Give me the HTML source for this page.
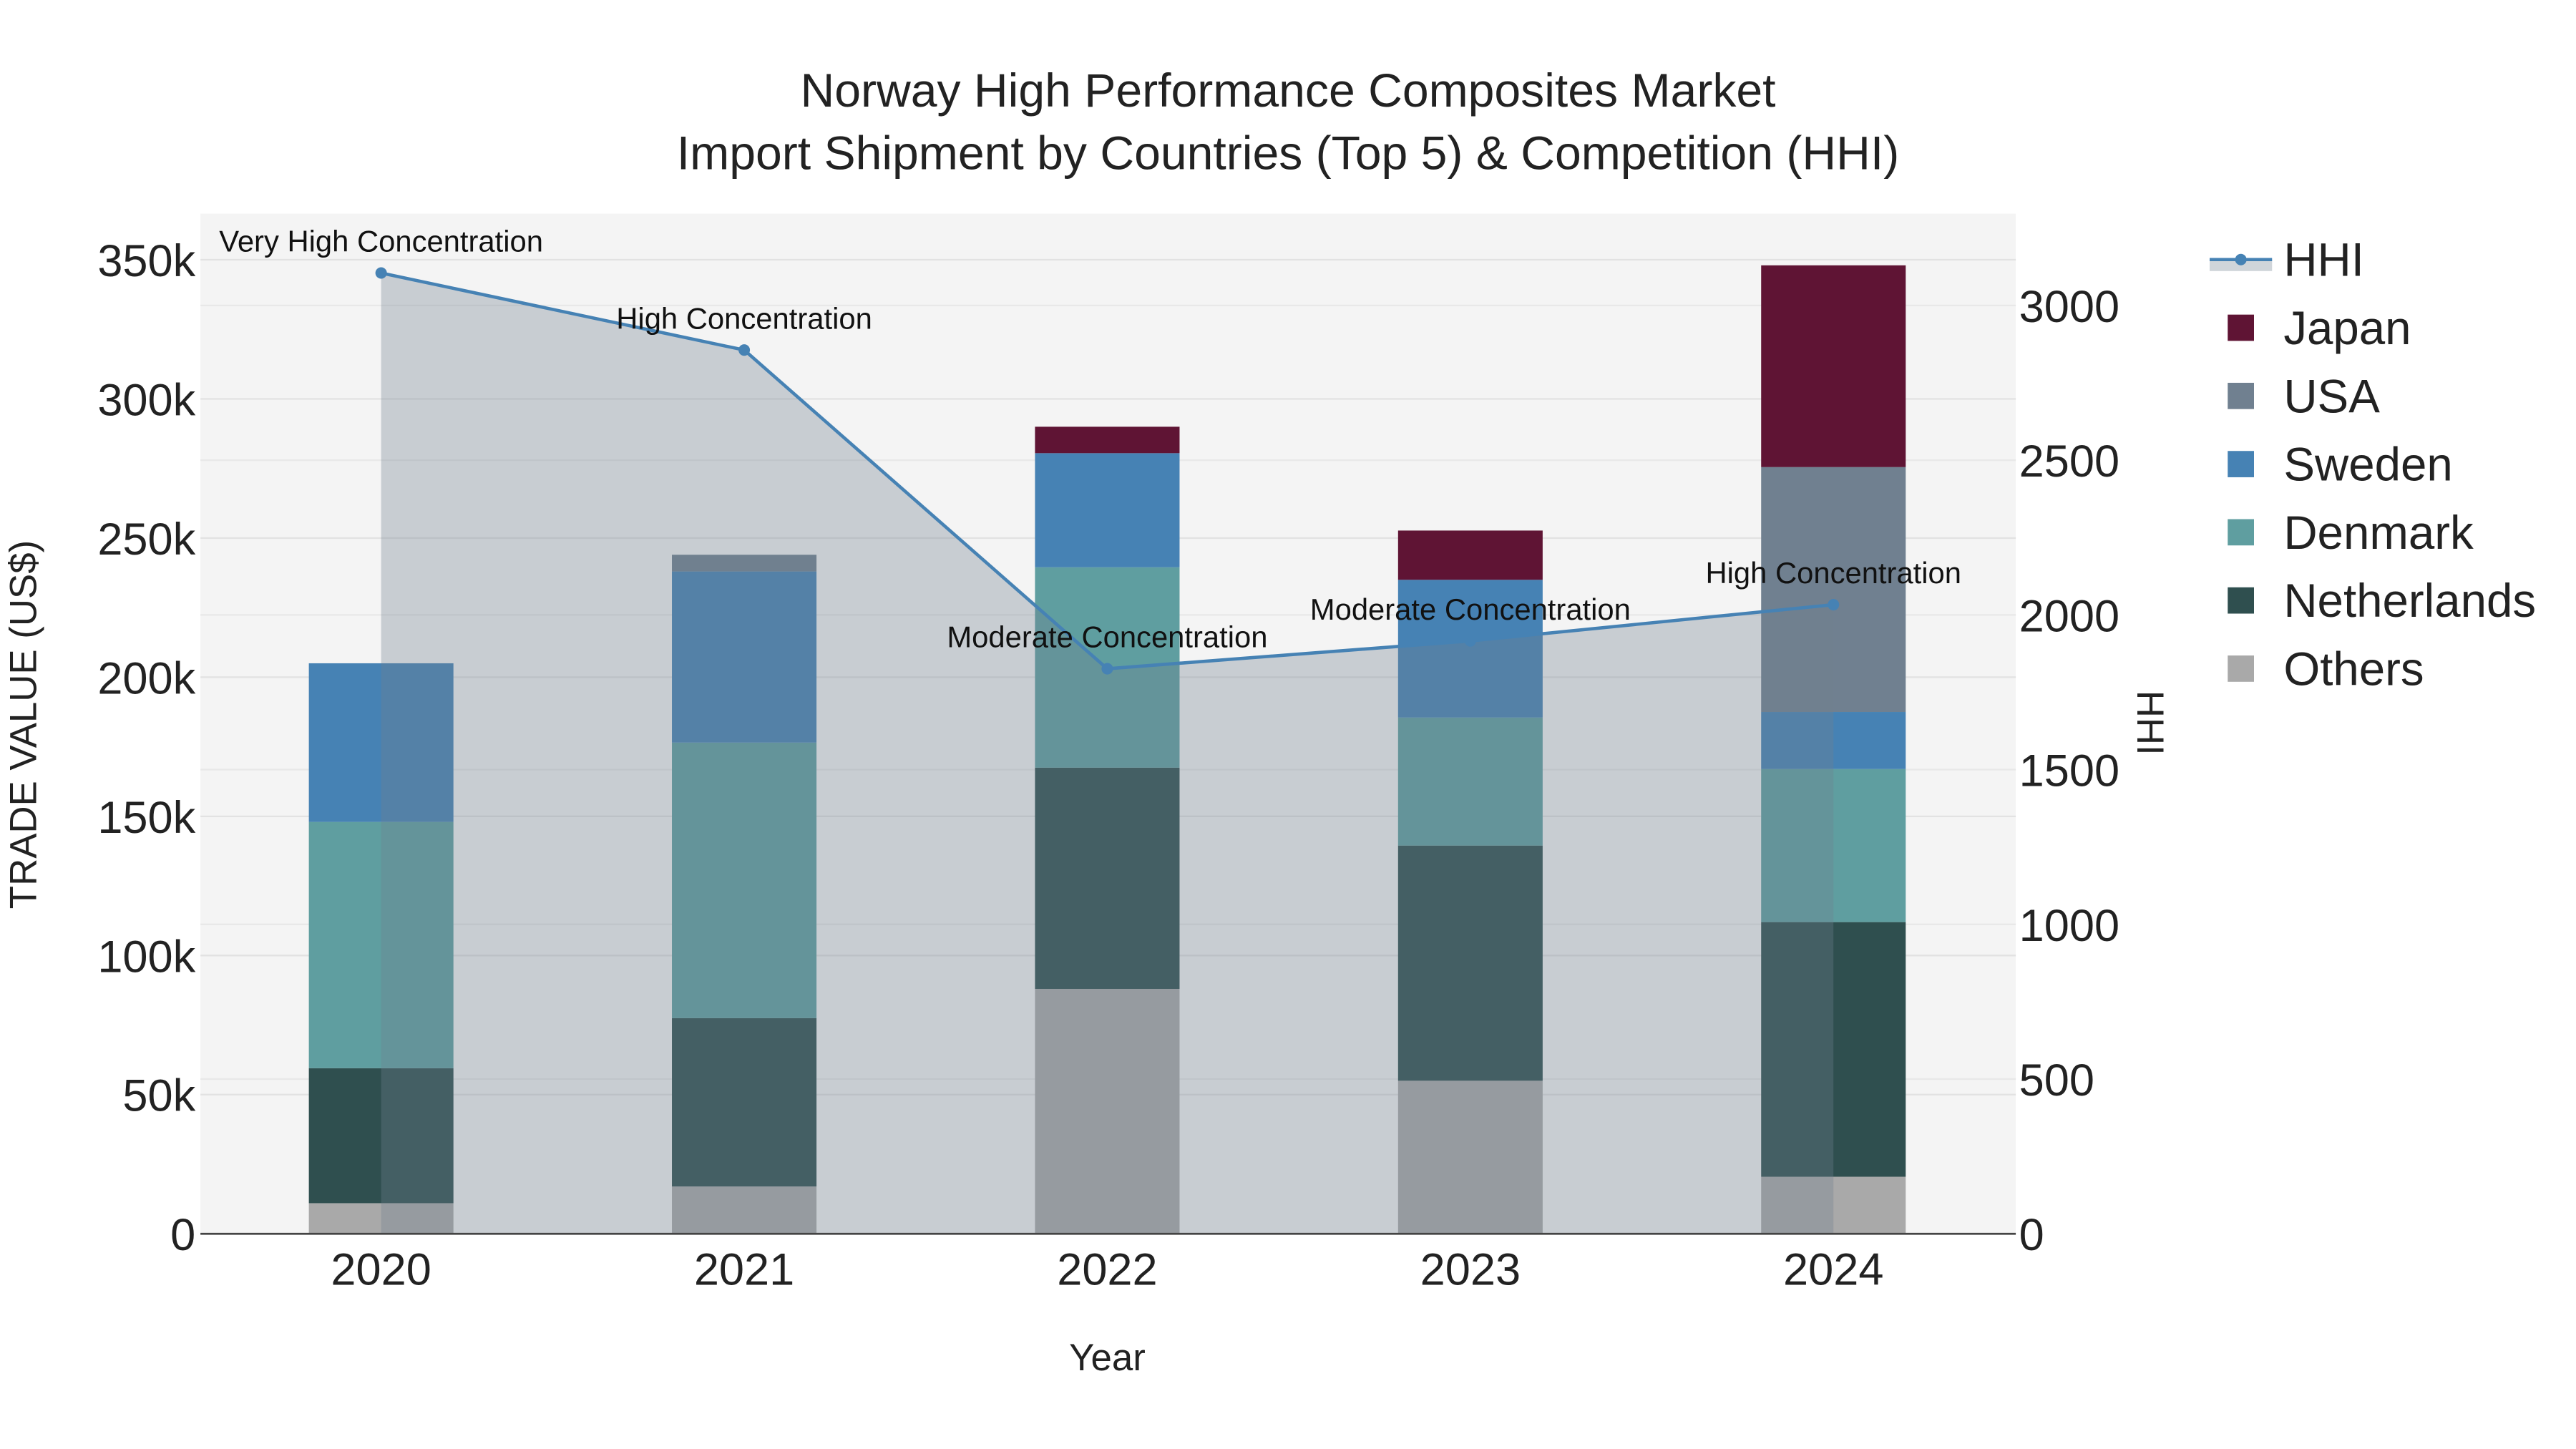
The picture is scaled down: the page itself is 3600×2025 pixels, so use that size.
<!DOCTYPE html>
<html><head><meta charset="utf-8"><style>
html,body{margin:0;padding:0;background:#fff;}
svg{display:block;font-family:"Liberation Sans",sans-serif;}
</style></head><body>
<svg id="chart" width="3600" height="2025" viewBox="0 0 1568 882" xmlns="http://www.w3.org/2000/svg">
<rect x="122" y="130" width="1105" height="621" fill="#f4f4f4"/>
<g id="grid"></g>
<g id="bars"></g>
<g id="hhi"></g>
<g id="axes"></g>
<text x="784" y="65" font-size="28.8" text-anchor="middle" fill="#222">Norway High Performance Composites Market</text>
<text x="784" y="103" font-size="28.8" text-anchor="middle" fill="#222">Import Shipment by Countries (Top 5) &amp; Competition (HHI)</text>
<text transform="translate(22,441) rotate(-90)" font-size="23" text-anchor="middle" fill="#222">TRADE VALUE (US$)</text>
<text transform="translate(1301,440) rotate(90)" font-size="23" text-anchor="middle" fill="#222">HHI</text>
<text x="674" y="834" font-size="23" text-anchor="middle" fill="#222">Year</text>
<g id="legend"></g>
</svg>
<script>
const years = ["2020","2021","2022","2023","2024"];
const others = [11000,17000,88000,55000,20500];
const netherlands = [48500,60500,79500,84500,91500];
const denmark = [88500,99000,72000,46000,55000];
const sweden = [57000,61500,41000,49500,20500];
const usa = [0,6000,0,0,88000];
const japan = [0,0,9500,17700,72500];
const hhi = [3105,2856,1826,1916,2033];
const hhiLabels = ["Very High Concentration","High Concentration","Moderate Concentration","Moderate Concentration","High Concentration"];
const yTicks = [0,50000,100000,150000,200000,250000,300000,350000];
const yTickLabels = ["0","50k","100k","150k","200k","250k","300k","350k"];
const y2Ticks = [0,500,1000,1500,2000,2500,3000];

const NS="http://www.w3.org/2000/svg";
const L=122,R=1227,T=130,B=751;
const yMax=366600, y2Max=3297;
const x=i=>232+i*221;
const y=v=>B-(v/yMax)*(B-T);
const y2=v=>B-(v/y2Max)*(B-T);
function el(tag,attrs,parent,txt){const e=document.createElementNS(NS,tag);for(const k in attrs)e.setAttribute(k,attrs[k]);if(txt!==undefined)e.textContent=txt;parent.appendChild(e);return e;}

const grid=document.getElementById('grid');
yTicks.forEach((t,i)=>{
  if(t>0){const g=el('line',{x1:L,x2:R,y1:y(t),y2:y(t),stroke:'#e2e2e2','stroke-width':1},grid);
  
  }
});
y2Ticks.forEach(t=>{
  if(t>0){const g=el('line',{x1:L,x2:R,y1:y2(t),y2:y2(t),stroke:'#e8e8e8','stroke-width':1},grid);
  
  }
});

const series=[["others",others,"#a9a9a9"],["netherlands",netherlands,"#2f4f4f"],["denmark",denmark,"#5f9ea0"],["sweden",sweden,"#4682b4"],["usa",usa,"#708090"],["japan",japan,"#5f1434"]];
const bars=document.getElementById('bars');
years.forEach((yr,i)=>{
  let base=0;
  series.forEach(([nm,arr,col])=>{
    const v=arr[i]; if(v<=0)return;
    const r=el('rect',{x:x(i)-44,width:88,y:y(base+v),height:y(base)-y(base+v),fill:col},bars);
    
    
    base+=v;
  });
});

const hg=document.getElementById('hhi');
let d="M"+x(0)+","+B;
hhi.forEach((v,i)=>{d+=" L"+x(i)+","+y2(v);});
d+=" L"+x(hhi.length-1)+","+B+" Z";
const area=el('path',{d:d,fill:'rgba(112,128,144,0.33)'},hg);


const line=el('polyline',{points:hhi.map((v,i)=>x(i)+","+y2(v)).join(" "),fill:'none',stroke:'#4682b4','stroke-width':2},hg);


hhi.forEach((v,i)=>{
  const c=el('circle',{cx:x(i),cy:y2(v),r:3.5,fill:'#4682b4'},hg);
  
  
  const t=el('text',{x:x(i),y:y2(v)-13,'font-size':18.2,'text-anchor':'middle',fill:'#111'},hg,hhiLabels[i]);
  
  
});

const ax=document.getElementById('axes');
const xl=el('line',{x1:L,x2:R,y1:B,y2:B,stroke:'#444','stroke-width':1.2},ax);


yTicks.forEach((t,i)=>{
  const tx=el('text',{x:L-3,y:y(t)+10,'font-size':27.5,'text-anchor':'end',fill:'#222'},ax,yTickLabels[i]);
  
  
});
y2Ticks.forEach(t=>{
  const tx=el('text',{x:R+2,y:y2(t)+10,'font-size':27.5,'text-anchor':'start',fill:'#222'},ax,String(t));
  
  
});
years.forEach((yr,i)=>{
  const tx=el('text',{x:x(i),y:782,'font-size':27.5,'text-anchor':'middle',fill:'#222'},ax,yr);
  
  
});

const lg=document.getElementById('legend');
const items=[["HHI",null],["Japan","#5f1434"],["USA","#708090"],["Sweden","#4682b4"],["Denmark","#5f9ea0"],["Netherlands","#2f4f4f"],["Others","#a9a9a9"]];
items.forEach(([nm,col],i)=>{
  const cy=158+i*41.5;
  const g=el('g',{},lg);
  
  
  if(col===null){
    el('rect',{x:1345,y:cy,width:38,height:7,fill:'rgba(112,128,144,0.33)'},g);
    el('line',{x1:1345,x2:1383,y1:cy,y2:cy,stroke:'#4682b4','stroke-width':2},g);
    el('circle',{cx:1364,cy:cy,r:3.5,fill:'#4682b4'},g);
  } else {
    el('rect',{x:1356,y:cy-8,width:16,height:16,fill:col},g);
  }
  el('text',{x:1390,y:cy+10,'font-size':28.5,fill:'#222'},g,nm);
});
</script>
</body></html>
